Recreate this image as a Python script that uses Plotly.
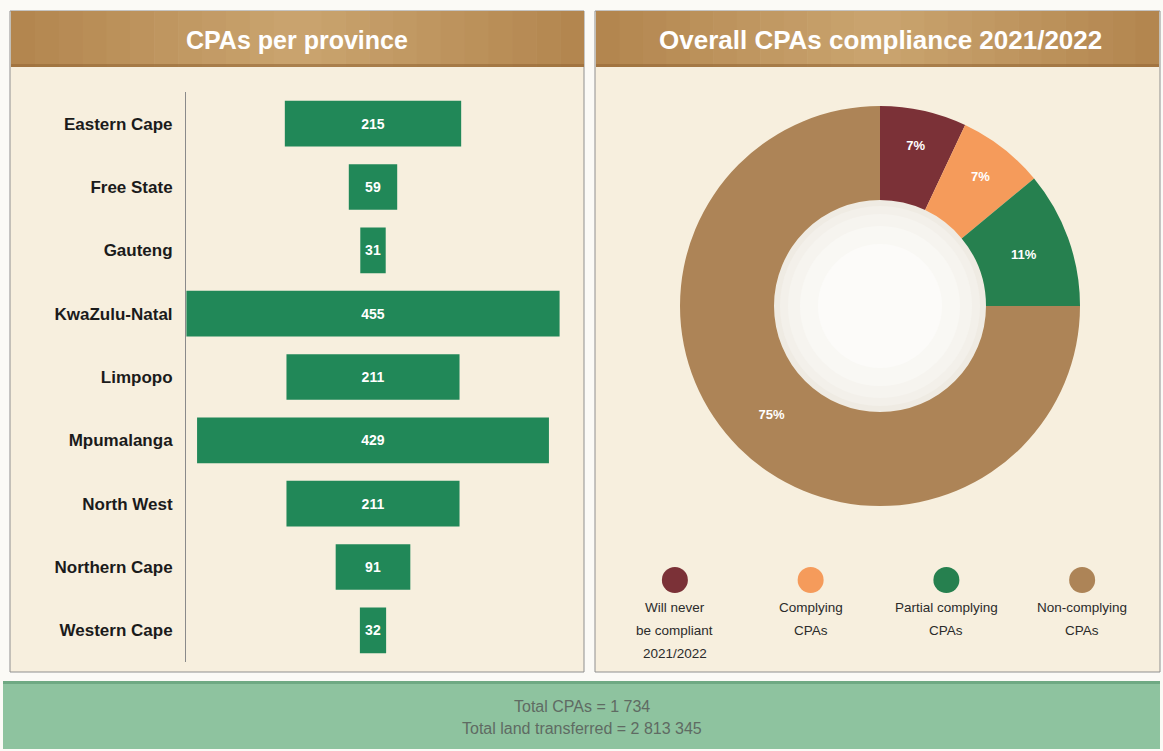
import plotly.graph_objects as go

W, H = 1163, 751

# ---- data ----
provinces = ["Eastern Cape", "Free State", "Gauteng", "KwaZulu-Natal", "Limpopo",
             "Mpumalanga", "North West", "Northern Cape", "Western Cape"]
cpas = [215, 59, 31, 455, 211, 429, 211, 91, 32]

compliance_labels = ["Will never<br>be compliant<br>2021/2022", "Complying<br>CPAs",
                     "Partial complying<br>CPAs", "Non-complying<br>CPAs"]
compliance_pct = [7, 7, 11, 75]
compliance_colors = ["#7b3137", "#f59b5b", "#26804f", "#ad8457"]

left_title = "CPAs per province"
right_title = "Overall CPAs compliance 2021/2022"
footer_lines = ["Total CPAs = 1 734", "Total land transferred = 2 813 345"]

FONT = "Liberation Sans, Arial, sans-serif"


def px(x):
    return x / W


def py(y):
    return 1 - y / H


fig = go.Figure()

# funnel-style centred bars
fig.add_trace(go.Funnel(
    y=provinces, x=cpas,
    textinfo="value", textposition="inside", insidetextanchor="middle",
    textfont=dict(color="white", size=14, family=FONT, weight="bold"),
    marker=dict(color="#218858"),
    connector=dict(visible=False),
    hoverinfo="y+x",
    xaxis="x", yaxis="y",
))

# donut
fig.add_trace(go.Pie(
    values=compliance_pct, labels=[l.replace("<br>", " ") for l in compliance_labels],
    marker=dict(colors=compliance_colors, line=dict(width=0)),
    hole=0.53, sort=False, direction="clockwise", rotation=0,
    texttemplate="%{value}%", textposition="inside", insidetextorientation="horizontal",
    textfont=dict(color="white", size=13, family=FONT, weight="bold"),
    domain=dict(x=[px(680), px(1080)], y=[py(506), py(106)]),
    showlegend=False,
))

# custom legend markers
fig.add_trace(go.Scatter(
    x=list(range(len(compliance_labels))), y=[0.5] * len(compliance_labels),
    mode="markers",
    marker=dict(size=26, color=compliance_colors),
    xaxis="x2", yaxis="y2", showlegend=False, hoverinfo="skip", cliponaxis=False,
))

shapes = []


def rect(x0, y0, x1, y1, fill, line=None, layer="below"):
    shapes.append(dict(type="rect", xref="paper", yref="paper",
                       x0=px(x0), x1=px(x1), y0=py(y1), y1=py(y0),
                       fillcolor=fill, line=line or dict(width=0), layer=layer))


# panels
rect(10, 11, 584, 672, "#f7efde", dict(color="#8f8f8f", width=1))
rect(595, 11, 1160, 672, "#f7efde", dict(color="#8f8f8f", width=1))


def gradient_bar(x0, x1, y0, y1):
    n = 24
    dark = (178, 133, 78)
    light = (203, 165, 112)
    for i in range(n):
        t = (i + 0.5) / n
        k = 1 - abs(t - 0.5) * 2
        c = tuple(int(dark[j] + (light[j] - dark[j]) * k) for j in range(3))
        xa = x0 + (x1 - x0) * i / n
        xb = x0 + (x1 - x0) * (i + 1) / n + 0.6
        rect(xa, y0, min(xb, x1), y1, "rgb(%d,%d,%d)" % c)
    rect(x0, y1 - 3, x1, y1, "rgba(150,105,55,0.6)")


gradient_bar(11, 584, 11, 67)
gradient_bar(596, 1159, 11, 67)

# footer band
rect(3, 683, 1160, 749, "#8ec39f")
rect(3, 681, 1160, 684, "#6fa983")

# hole backdrop (soft sphere look)
for r, col in [(106, "#efebe3"), (100, "#f3f0ea"), (92, "#f6f4ef"), (80, "#f9f8f4"), (62, "#fcfbf9")]:
    shapes.append(dict(type="circle", xref="paper", yref="paper",
                       x0=px(880 - r), x1=px(880 + r), y0=py(306 + r), y1=py(306 - r),
                       fillcolor=col, line=dict(width=0), layer="below"))

annotations = [
    dict(text=left_title, x=px(297), y=py(40), xref="paper", yref="paper",
         showarrow=False, font=dict(size=25, color="white", family=FONT, weight="bold"),
         xanchor="center", yanchor="middle"),
    dict(text=right_title, x=px(880), y=py(40), xref="paper", yref="paper",
         showarrow=False, font=dict(size=26, color="white", family=FONT, weight="bold"),
         xanchor="center", yanchor="middle"),
]
for k, line in enumerate(footer_lines):
    annotations.append(dict(text=line, x=px(582), y=py(706 + 22 * k), xref="paper", yref="paper",
                            showarrow=False, font=dict(size=16, color="#5f6b63", family=FONT),
                            xanchor="center", yanchor="middle"))

# legend text, one annotation per line for the wider line spacing
for i, label in enumerate(compliance_labels):
    for k, line in enumerate(label.split("<br>")):
        annotations.append(dict(text=line, x=i, y=0.5, xref="x2", yref="y2",
                                showarrow=False, yshift=-(27 + 23 * k),
                                font=dict(size=13.5, color="#2b2b2b", family=FONT),
                                xanchor="center", yanchor="middle"))

fig.update_layout(
    width=W, height=H,
    margin=dict(l=0, r=0, t=0, b=0),
    paper_bgcolor="#fbfaf6", plot_bgcolor="rgba(0,0,0,0)",
    showlegend=False,
    funnelgap=0.28,
    xaxis=dict(domain=[px(186), px(560)], range=[-228, 228], visible=False, fixedrange=True),
    yaxis=dict(domain=[py(662), py(92)], showline=True, linecolor="#8a8a8a", linewidth=1,
               showgrid=False, ticks="", ticklabelstandoff=9,
               tickfont=dict(size=17, color="#1b1b1b", family=FONT, weight="bold")),
    xaxis2=dict(domain=[px(607), px(1150)], range=[-0.5, 3.5], visible=False, anchor="y2"),
    yaxis2=dict(domain=[py(600), py(560)], range=[0, 1], visible=False, anchor="x2"),
    shapes=shapes,
    annotations=annotations,
)

fig.write_html("out.html", config={"displayModeBar": False},
               post_script="document.body.style.margin='0';document.body.style.overflow='hidden';")
